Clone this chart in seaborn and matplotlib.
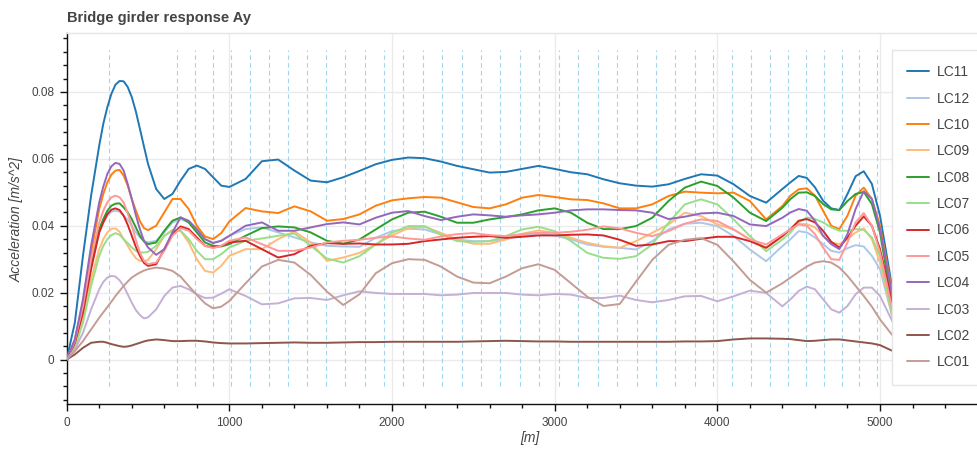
import matplotlib
matplotlib.use("Agg")
import matplotlib.pyplot as plt
from matplotlib.lines import Line2D
from matplotlib.ticker import MultipleLocator, FuncFormatter
import seaborn as sns
import pandas as pd

# Stations along the girder [m]
station = [0, 50, 100, 150,
           200, 225, 250, 275, 300, 325, 350, 375, 400, 425, 450, 475, 500,
           550, 600, 650, 700, 750, 800, 850, 900, 950, 1000,
           1100, 1200, 1300, 1400, 1500, 1600, 1700, 1800, 1900, 2000, 2100, 2200, 2300, 2400, 2500, 2600, 2700,
           2800, 2900, 3000, 3100, 3200, 3300, 3400, 3500, 3600, 3700, 3800, 3900, 4000, 4100, 4200, 4300,
           4400, 4450, 4500, 4550, 4600, 4650, 4700, 4750, 4800, 4850, 4900, 4950, 5000, 5080]

# Support (pier) positions [m]
piers = [257, 676, 789, 899, 1010, 1127, 1244, 1361, 1478, 1595, 1713, 1832, 1951, 2070, 2191, 2310, 2431,
         2548, 2666, 2786, 2905, 3025, 3146, 3266, 3386, 3505, 3625, 3742, 3860, 3975, 4093, 4208, 4322,
         4435, 4546, 4656, 4765, 4872, 4979]

# Acceleration envelopes per load case [m/s^2]
lc11 = [0, 0.011, 0.031, 0.049,
        0.064, 0.0705, 0.0755, 0.0795, 0.0822, 0.0833, 0.0832, 0.0815, 0.0785, 0.0742, 0.069, 0.0637, 0.0585,
        0.051, 0.048, 0.0495, 0.0535, 0.057, 0.058, 0.057, 0.0545, 0.052, 0.0516,
        0.054, 0.0593, 0.0598, 0.0565, 0.0535, 0.053, 0.0545, 0.0564, 0.0584, 0.0597, 0.0604, 0.0602, 0.0592, 0.0579, 0.0569, 0.0559, 0.0561, 0.057, 0.0579, 0.057, 0.056, 0.0554, 0.0539, 0.0527, 0.052, 0.0517, 0.0524, 0.054, 0.0554, 0.055, 0.0524, 0.0489, 0.0469,
        0.051, 0.053, 0.0549, 0.0543, 0.0515, 0.0475, 0.0452, 0.0447, 0.0495, 0.0548, 0.0563, 0.0525, 0.043, 0.020]
lc12 = [0, 0.005, 0.015, 0.029,
        0.038, 0.041, 0.043, 0.0442, 0.0445, 0.0442, 0.043, 0.0418, 0.040, 0.038, 0.0365, 0.0355, 0.035,
        0.0355, 0.038, 0.041, 0.042, 0.041, 0.0385, 0.036, 0.035, 0.0355, 0.037,
        0.039, 0.0395, 0.038, 0.0365, 0.035, 0.034, 0.0338, 0.0337, 0.0364, 0.0384, 0.0391, 0.0389, 0.0374, 0.0359, 0.0354, 0.0354, 0.0361, 0.0369, 0.0377, 0.0371, 0.0359, 0.0344, 0.0337, 0.0334, 0.0329, 0.0354, 0.0389, 0.0406, 0.0409, 0.0399, 0.0369, 0.0329, 0.0294,
        0.0339, 0.036, 0.0384, 0.038, 0.0365, 0.0345, 0.0325, 0.032, 0.0333, 0.0342, 0.0338, 0.031, 0.027, 0.012]
lc10 = [0, 0.006, 0.017, 0.032,
        0.045, 0.0495, 0.053, 0.0553, 0.0565, 0.0567, 0.055, 0.052, 0.048, 0.0446, 0.0414, 0.0393, 0.0387,
        0.040, 0.044, 0.048, 0.048, 0.045, 0.040, 0.0368, 0.036, 0.0378, 0.0413,
        0.0453, 0.0443, 0.0438, 0.0458, 0.0443, 0.0415, 0.042, 0.0434, 0.046, 0.0476, 0.0482, 0.0486, 0.0484, 0.047, 0.0456, 0.0452, 0.0464, 0.0484, 0.0492, 0.0486, 0.0479, 0.0477, 0.0467, 0.0452, 0.0452, 0.0464, 0.0489, 0.0502, 0.0499, 0.0497, 0.0499, 0.0474, 0.0419,
        0.0459, 0.049, 0.0509, 0.0512, 0.049, 0.0445, 0.040, 0.039, 0.043, 0.049, 0.0514, 0.048, 0.040, 0.019]
lc09 = [0, 0.004, 0.012, 0.024,
        0.033, 0.036, 0.038, 0.0391, 0.0392, 0.0382, 0.036, 0.034, 0.032, 0.0303, 0.0295, 0.0294, 0.0298,
        0.033, 0.037, 0.0388, 0.0385, 0.035, 0.030, 0.0265, 0.026, 0.028, 0.031,
        0.033, 0.033, 0.036, 0.0383, 0.035, 0.0295, 0.0305, 0.0319, 0.0344, 0.0371, 0.0393, 0.0397, 0.0379, 0.0359, 0.0346, 0.0346, 0.0359, 0.0376, 0.0386, 0.0379, 0.0364, 0.0349, 0.0339, 0.0334, 0.0354, 0.0379, 0.0404, 0.0439, 0.0429, 0.0404, 0.0389, 0.0359, 0.0334,
        0.0369, 0.039, 0.0405, 0.0405, 0.0395, 0.037, 0.035, 0.0345, 0.036, 0.038, 0.0392, 0.036, 0.029, 0.012]
lc08 = [0, 0.005, 0.015, 0.028,
        0.039, 0.042, 0.0445, 0.046, 0.0466, 0.0467, 0.0455, 0.044, 0.042, 0.0395, 0.037, 0.0353, 0.0345,
        0.035, 0.0385, 0.0415, 0.0425, 0.041, 0.038, 0.035, 0.034, 0.0338, 0.0345,
        0.037, 0.0393, 0.0398, 0.0395, 0.038, 0.0355, 0.0346, 0.0359, 0.0389, 0.0419, 0.0439, 0.0442, 0.0427, 0.0409, 0.0409, 0.0419, 0.0426, 0.0434, 0.0446, 0.0452, 0.0439, 0.0409, 0.039, 0.039, 0.0399, 0.0424, 0.0474, 0.0514, 0.0532, 0.0519, 0.0484, 0.0439, 0.0414,
        0.0454, 0.048, 0.0499, 0.050, 0.0489, 0.0465, 0.0449, 0.0447, 0.0474, 0.0495, 0.0501, 0.0465, 0.038, 0.015]
lc07 = [0, 0.0035, 0.011, 0.022,
        0.031, 0.034, 0.036, 0.0372, 0.0378, 0.0373, 0.036, 0.0348, 0.0335, 0.0325, 0.032, 0.032, 0.0322,
        0.034, 0.037, 0.0385, 0.0385, 0.036, 0.0325, 0.030, 0.030, 0.0315, 0.0335,
        0.0355, 0.0362, 0.037, 0.0377, 0.034, 0.0302, 0.029, 0.0309, 0.0344, 0.0379, 0.0399, 0.0399, 0.0374, 0.0354, 0.0352, 0.0354, 0.0369, 0.0389, 0.0397, 0.0384, 0.0354, 0.0319, 0.0304, 0.0301, 0.0309, 0.0344, 0.0409, 0.0464, 0.0479, 0.0464, 0.0419, 0.0369, 0.0324,
        0.0359, 0.038, 0.041, 0.0425, 0.042, 0.041, 0.0395, 0.0385, 0.0385, 0.039, 0.0388, 0.0365, 0.031, 0.012]
lc06 = [0, 0.005, 0.014, 0.027,
        0.038, 0.041, 0.0435, 0.0448, 0.0452, 0.0447, 0.043, 0.0403, 0.037, 0.0337, 0.031, 0.0289, 0.028,
        0.0285, 0.033, 0.0375, 0.0398, 0.039, 0.0365, 0.034, 0.0335, 0.034, 0.035,
        0.0355, 0.033, 0.0305, 0.0315, 0.034, 0.0348, 0.0346, 0.0347, 0.0344, 0.0344, 0.0346, 0.0354, 0.0359, 0.0364, 0.0367, 0.0369, 0.0364, 0.0367, 0.0371, 0.0371, 0.0373, 0.0374, 0.0371, 0.0358, 0.034, 0.0344, 0.0354, 0.0354, 0.0361, 0.0367, 0.0367, 0.0354, 0.0334,
        0.0369, 0.039, 0.0415, 0.042, 0.041, 0.0385, 0.0352, 0.0335, 0.0365, 0.040, 0.0428, 0.040, 0.033, 0.016]
lc05 = [0, 0.0055, 0.016, 0.030,
        0.041, 0.0445, 0.047, 0.0485, 0.049, 0.0485, 0.047, 0.0437, 0.040, 0.0358, 0.032, 0.0295, 0.0285,
        0.029, 0.0325, 0.037, 0.0393, 0.0385, 0.036, 0.034, 0.0333, 0.034, 0.0355,
        0.0365, 0.0345, 0.0325, 0.0325, 0.0335, 0.035, 0.0355, 0.0358, 0.0364, 0.0368, 0.0362, 0.0358, 0.0368, 0.0375, 0.0378, 0.0372, 0.0369, 0.0375, 0.0379, 0.0379, 0.0382, 0.0388, 0.0398, 0.0392, 0.0379, 0.0369, 0.0384, 0.0406, 0.0419, 0.0414, 0.0389, 0.0359, 0.0344,
        0.0374, 0.039, 0.0404, 0.040, 0.0375, 0.0335, 0.030, 0.0298, 0.035, 0.041, 0.0438, 0.040, 0.032, 0.014]
lc04 = [0, 0.006, 0.018, 0.034,
        0.047, 0.0517, 0.0555, 0.0578, 0.0588, 0.0585, 0.0565, 0.0525, 0.048, 0.0432, 0.039, 0.0355, 0.0335,
        0.0313, 0.033, 0.038, 0.0425, 0.0415, 0.039, 0.036, 0.0348, 0.0355, 0.037,
        0.040, 0.041, 0.0385, 0.0385, 0.0395, 0.0405, 0.041, 0.0404, 0.0424, 0.0439, 0.0444, 0.0429, 0.0417, 0.0427, 0.0434, 0.0431, 0.0427, 0.0431, 0.0434, 0.0439, 0.0446, 0.0449, 0.0449, 0.0447, 0.0446, 0.0439, 0.042, 0.0427, 0.0437, 0.0439, 0.0429, 0.0404, 0.0399,
        0.0424, 0.044, 0.045, 0.0445, 0.0415, 0.037, 0.0345, 0.033, 0.0375, 0.045, 0.0503, 0.048, 0.039, 0.018]
lc03 = [0, 0.003, 0.008, 0.015,
        0.021, 0.0232, 0.0245, 0.025, 0.0248, 0.0237, 0.022, 0.0195, 0.017, 0.0148, 0.0133, 0.0123, 0.0126,
        0.015, 0.019, 0.0215, 0.022, 0.021, 0.0195, 0.0184, 0.0185, 0.0197, 0.021,
        0.019, 0.0165, 0.0168, 0.0183, 0.0184, 0.0178, 0.0192, 0.0204, 0.0199, 0.0196, 0.0196, 0.0196, 0.0192, 0.0194, 0.0199, 0.0199, 0.0199, 0.0194, 0.0192, 0.0196, 0.0194, 0.0184, 0.0184, 0.0191, 0.0178, 0.0171, 0.0178, 0.0189, 0.019, 0.0174, 0.0189, 0.0206, 0.0199,
        0.0159, 0.018, 0.0205, 0.0218, 0.021, 0.018, 0.015, 0.014, 0.016, 0.0195, 0.0215, 0.0215, 0.019, 0.011]
lc02 = [0, 0.0015, 0.0035, 0.005,
        0.0053, 0.0053, 0.005, 0.0046, 0.0043, 0.004, 0.0038, 0.0039, 0.0042, 0.0046, 0.005, 0.0054, 0.0057,
        0.006, 0.0058, 0.0055, 0.0055, 0.0056, 0.0056, 0.0054, 0.0051, 0.0049, 0.0048,
        0.0048, 0.0049, 0.005, 0.0051, 0.005, 0.005, 0.0051, 0.0052, 0.0052, 0.0053, 0.0053, 0.0053, 0.0053, 0.0053, 0.0054, 0.0055, 0.0056, 0.0055, 0.0054, 0.0054, 0.0053, 0.0053, 0.0053, 0.0053, 0.0053, 0.0053, 0.0053, 0.0054, 0.0054, 0.0055, 0.006, 0.0063, 0.0063,
        0.0062, 0.0061, 0.0058, 0.0055, 0.0056, 0.0058, 0.006, 0.006, 0.0057, 0.0054, 0.0051, 0.0048, 0.0043, 0.0025]
lc01 = [0, 0.0025, 0.0055, 0.009,
        0.0125, 0.0141, 0.0157, 0.0173, 0.019, 0.0205, 0.022, 0.0233, 0.0245, 0.0253, 0.026, 0.0266, 0.027,
        0.0275, 0.0272, 0.0265, 0.0248, 0.022, 0.0193, 0.0168, 0.0153, 0.0158, 0.0175,
        0.0228, 0.0278, 0.0298, 0.029, 0.0253, 0.0203, 0.0163, 0.0195, 0.0258, 0.0288, 0.030, 0.0298, 0.0278, 0.0248, 0.023, 0.0228, 0.0248, 0.0273, 0.0285, 0.0268, 0.0228, 0.0188, 0.016, 0.0166, 0.0233, 0.0298, 0.0343, 0.0358, 0.0363, 0.0343, 0.0293, 0.0238, 0.020,
        0.0228, 0.0245, 0.0262, 0.0278, 0.029, 0.0294, 0.029, 0.0275, 0.025, 0.022, 0.019, 0.0158, 0.012, 0.007]

cases = ["LC11", "LC12", "LC10", "LC09", "LC08", "LC07", "LC06", "LC05", "LC04", "LC03", "LC02", "LC01"]
series = [lc11, lc12, lc10, lc09, lc08, lc07, lc06, lc05, lc04, lc03, lc02, lc01]
colors = ["#1f77b4", "#aec7e8", "#ff7f0e", "#ffbb78", "#2ca02c", "#98df8a",
          "#d62728", "#ff9896", "#9467bd", "#c5b0d5", "#8c564b", "#c49c94"]

df = pd.concat(
    [pd.DataFrame({"station": station, "acc": vals, "case": name}) for name, vals in zip(cases, series)],
    ignore_index=True,
)

sns.set_theme(style="white")
plt.rcParams["font.family"] = ["Liberation Sans", "DejaVu Sans"]

W, H = 978, 453
fig = plt.figure(figsize=(W / 100, H / 100), dpi=100)
left_px, right_px, top_px, bottom_px = 66.7, 995.0, 33.3, 404.0
ax = fig.add_axes([left_px / W, 1 - bottom_px / H, (right_px - left_px) / W, (bottom_px - top_px) / H])

# pier lines
ax.vlines(piers, -0.008, 0.0925, colors="#9fd6ee", linestyles=(0, (4, 3)), linewidth=0.8, zorder=1)

sns.lineplot(data=df, x="station", y="acc", hue="case", hue_order=cases, palette=colors,
             estimator=None, errorbar=None, linewidth=1.4, legend=False, ax=ax, zorder=3)

px_per_m = (880.0 - 66.7) / 5000.0
px_per_unit = (359.5 - 92.0) / 0.08
ax.set_xlim(0, (right_px - left_px) / px_per_m)
ax.set_ylim(-(bottom_px - 359.5) / px_per_unit, (359.5 - top_px) / px_per_unit)

ax.xaxis.set_major_locator(MultipleLocator(1000))
ax.xaxis.set_minor_locator(MultipleLocator(200))
ax.yaxis.set_major_locator(MultipleLocator(0.02))
ax.yaxis.set_minor_locator(MultipleLocator(0.004))
ax.xaxis.set_major_formatter(FuncFormatter(lambda v, _: f"{int(round(v))}"))
ax.yaxis.set_major_formatter(FuncFormatter(lambda v, _: "0" if abs(v) < 1e-9 else f"{round(v, 4):g}"))

ax.grid(True, which="major", color="#ebebeb", linewidth=1.0, zorder=0)
ax.set_axisbelow(True)
ax.set_xlabel("")
ax.set_ylabel("")

for side in ("left", "bottom"):
    ax.spines[side].set_color("#111111")
    ax.spines[side].set_linewidth(1.0)
ax.spines["top"].set_color("#e5e5e5")
ax.spines["top"].set_linewidth(1.0)
ax.spines["right"].set_visible(False)

ax.tick_params(axis="both", which="major", direction="out", length=5, width=1, color="#111111",
               labelsize=8.5, labelcolor="#444444", pad=4, left=True, bottom=True)
ax.tick_params(axis="both", which="minor", direction="out", length=3, width=1, color="#111111",
               left=True, bottom=True)

fig.text(left_px / W, 1 - 18 / H, "Bridge girder response Ay", fontsize=10.5, fontweight="bold",
         color="#444444", ha="left", va="center")
fig.text(17 / W, 1 - 219 / H, "Acceleration [m/s^2]", rotation=90, fontsize=10, style="italic",
         color="#444444", ha="center", va="center")
fig.text(530 / W, 1 - 438 / H, "[m]", fontsize=10, style="italic", color="#444444", ha="center", va="center")

handles = [Line2D([], [], color=c, linewidth=1.4) for c in colors]
leg = fig.legend(handles, cases, loc="upper left", bbox_to_anchor=(892 / W, 1 - 50 / H),
                 frameon=True, fancybox=False, edgecolor="#e5e5e5", facecolor="white", framealpha=1.0,
                 fontsize=10, labelcolor="#444444", labelspacing=0.89, handlelength=1.6,
                 handletextpad=0.55, borderpad=1.1, borderaxespad=0)
leg.get_frame().set_linewidth(1.0)

fig.savefig("out.png", dpi=100)
